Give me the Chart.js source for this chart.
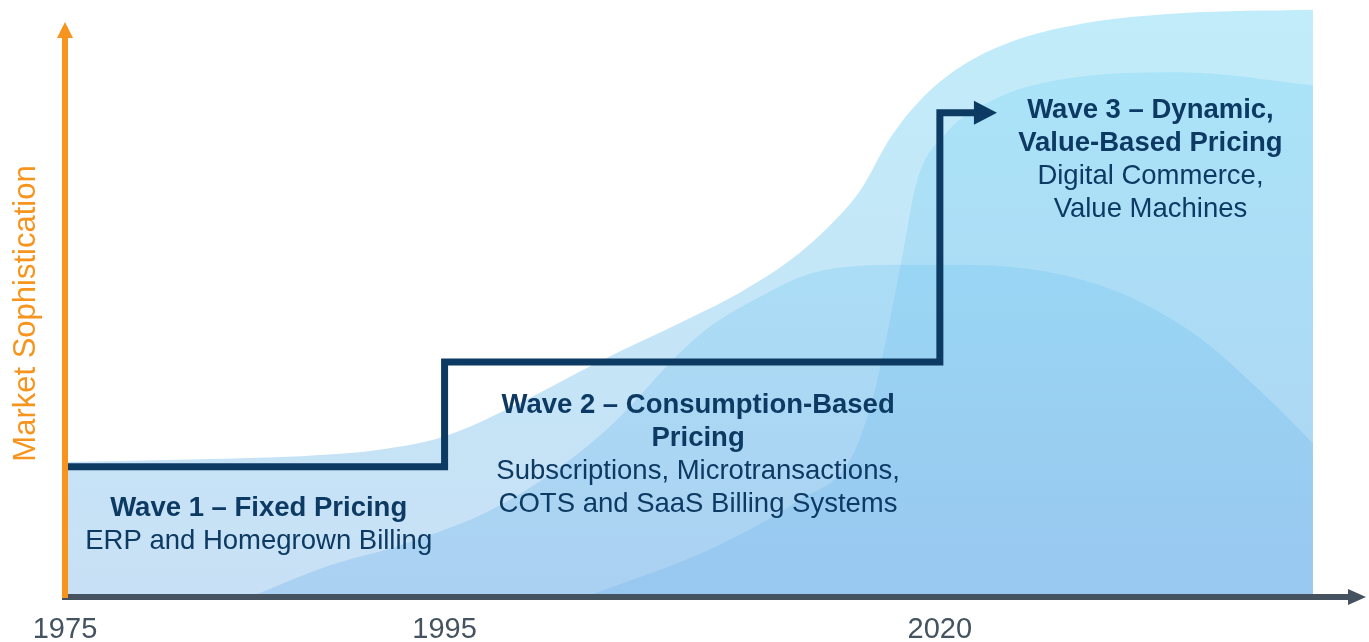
<!DOCTYPE html>
<html><head><meta charset="utf-8">
<script src="https://cdn.jsdelivr.net/npm/chart.js@4.4.1/dist/chart.umd.min.js"></script>
<style>html,body{margin:0;padding:0;background:#fff;}canvas{display:block;}</style>
</head><body>
<canvas id="c" width="1369" height="642"></canvas>
<script>
// ---- data ----
const tickPositions = [0, 29.2, 67.3];
const tickLabels = ['1975', '1995', '2020'];
const yTitle = 'Market Sophistication';

const stepX = [0, 29.2, 67.3, 70.0];
const stepY = [22.1, 39.9, 82.2, 82.2];

const backWaveX = [0, 10.4, 18.1, 24.2, 29.1, 34.4, 41.3, 48.2, 52.0, 55.8, 58.8, 61.2, 63.5, 65.8, 68.8, 72.7, 78.1, 85.8, 96.0];
const backWaveY = [22.9, 23.4, 23.9, 25.0, 27.2, 32.3, 40.2, 47.5, 51.8, 57.2, 63.0, 69.1, 78.0, 84.4, 89.9, 94.2, 97.3, 99.1, 99.7];

const moundX = [14.2, 20.4, 25.8, 33.5, 41.2, 48.8, 53.5, 57.5, 64.2, 68.8, 79.1, 86.8, 91.9, 96.0];
const moundY = [0, 5.4, 8.8, 15.6, 27.5, 44.5, 51.0, 55.0, 56.4, 56.4, 53.3, 44.8, 35.1, 26.1];

const frontWaveX = [40.0, 50.0, 56.5, 60.4, 62.1, 63.3, 64.5, 65.5, 67.8, 71.4, 76.5, 85.8, 96.0];
const frontWaveY = [0, 8.5, 16.5, 23.3, 33.4, 45.3, 58.9, 70.3, 78.8, 84.4, 87.8, 89.1, 86.9];

const waveHeadings = [
  ['Wave 1 – Fixed Pricing'],
  ['Wave 2 – Consumption-Based', 'Pricing'],
  ['Wave 3 – Dynamic,', 'Value-Based Pricing']
];
const waveDetails = [
  ['ERP and Homegrown Billing'],
  ['Subscriptions, Microtransactions,', 'COTS and SaaS Billing Systems'],
  ['Digital Commerce,', 'Value Machines']
];

// ---- styles ----
const NAVY = '#0d3a63';
const ORANGE = '#f7941d';
const SLATE = '#44535f';
const FONT = '"Liberation Sans", Arial, sans-serif';

const toPts = (xs, ys) => xs.map((x, i) => ({x, y: ys[i]}));
function grad(top, bottom) {
  return (c) => {
    const ch = c.chart, a = ch.chartArea;
    if (!a) return top;
    const g = ch.ctx.createLinearGradient(0, a.top, 0, a.bottom);
    g.addColorStop(0, top); g.addColorStop(1, bottom);
    return g;
  };
}

const textPlugin = {
  id: 'waveText',
  afterDraw(chart) {
    const {ctx, scales: {x, y}} = chart;
    const anchors = [[14.9, 13.75], [48.7, 31.2], [83.5, 81.3]];
    const lh = 33;
    ctx.save();
    ctx.fillStyle = NAVY;
    ctx.textAlign = 'center';
    ctx.textBaseline = 'alphabetic';
    anchors.forEach(([ax, ay], i) => {
      const cx = x.getPixelForValue(ax);
      let by = y.getPixelForValue(ay);
      ctx.font = 'bold 27.5px ' + FONT;
      waveHeadings[i].forEach(t => { ctx.fillText(t, cx, by); by += lh; });
      ctx.font = '27.5px ' + FONT;
      waveDetails[i].forEach(t => { ctx.fillText(t, cx, by); by += lh; });
    });
    ctx.restore();
  }
};

const ARROW_GAP = 22;
const arrowPlugin = {
  id: 'arrows',
  afterLayout(chart) {
    chart.scales.y.top = chart.chartArea.top + ARROW_GAP;
  },
  beforeDatasetsDraw(chart) {
    chart.scales.y.top = chart.chartArea.top;
  },
  afterDatasetsDraw(chart) {
    chart.scales.y.top = chart.chartArea.top + ARROW_GAP;
  },
  afterDraw(chart) {
    const {ctx, chartArea: a} = chart;
    ctx.save();
    const pts = chart.getDatasetMeta(0).data;
    const p = pts[pts.length - 1];
    ctx.fillStyle = NAVY;
    ctx.beginPath();
    ctx.moveTo(p.x - 1, p.y - 12); ctx.lineTo(p.x + 22, p.y); ctx.lineTo(p.x - 1, p.y + 12);
    ctx.closePath(); ctx.fill();
    const yTop = a.top + ARROW_GAP;
    ctx.fillStyle = ORANGE;
    ctx.beginPath();
    ctx.moveTo(a.left - 8, yTop + 8); ctx.lineTo(a.left, yTop - 8); ctx.lineTo(a.left + 8, yTop + 8);
    ctx.closePath(); ctx.fill();
    ctx.fillStyle = SLATE;
    ctx.beginPath();
    ctx.moveTo(a.right - 2, a.bottom - 8); ctx.lineTo(a.right + 16, a.bottom); ctx.lineTo(a.right - 2, a.bottom + 8);
    ctx.closePath(); ctx.fill();
    ctx.restore();
  }
};

new Chart(document.getElementById('c'), {
  type: 'line',
  data: {
    datasets: [
      {
        data: toPts(stepX, stepY), stepped: true, borderColor: NAVY, borderWidth: 7,
        pointRadius: 0, fill: false, borderJoinStyle: 'miter', borderCapStyle: 'butt'
      },
      {
        data: toPts(frontWaveX, frontWaveY), borderWidth: 0, pointRadius: 0,
        cubicInterpolationMode: 'monotone', fill: 'origin',
        backgroundColor: grad('rgba(100,210,245,0.25)', 'rgba(95,170,232,0.24)')
      },
      {
        data: toPts(moundX, moundY), borderWidth: 0, pointRadius: 0,
        cubicInterpolationMode: 'monotone', fill: 'origin',
        backgroundColor: grad('rgba(110,215,246,0.26)', 'rgba(95,168,232,0.28)')
      },
      {
        data: toPts(backWaveX, backWaveY), borderWidth: 0, pointRadius: 0,
        cubicInterpolationMode: 'monotone', fill: 'origin',
        backgroundColor: grad('rgb(193,236,250)', 'rgb(200,224,245)')
      }
    ]
  },
  options: {
    responsive: false,
    animation: false,
    devicePixelRatio: 1,
    layout: {padding: {top: 8, right: 19, left: 0, bottom: 0}},
    plugins: {legend: {display: false}, tooltip: {enabled: false}},
    scales: {
      x: {
        type: 'linear', min: 0, max: 98.85,
        grid: {display: false, drawTicks: false},
        border: {display: true, color: SLATE, width: 6, z: 1},
        afterBuildTicks: s => { s.ticks = tickPositions.map(v => ({value: v})); },
        afterFit: s => { s.height = 45; },
        ticks: {
          autoSkip: false, maxRotation: 0, padding: 16, color: SLATE,
          font: {family: FONT, size: 29},
          callback: v => tickLabels[tickPositions.indexOf(v)]
        }
      },
      y: {
        type: 'linear', min: 0, max: 100,
        grid: {display: false, drawTicks: false},
        border: {display: true, color: ORANGE, width: 6, z: 1},
        ticks: {display: false},
        afterFit: s => { s.width = 65; },
        title: {display: true, text: yTitle, color: ORANGE, font: {family: FONT, size: 31}, padding: {top: 8, bottom: 0}}
      }
    }
  },
  plugins: [textPlugin, arrowPlugin]
});
</script>
</body></html>
